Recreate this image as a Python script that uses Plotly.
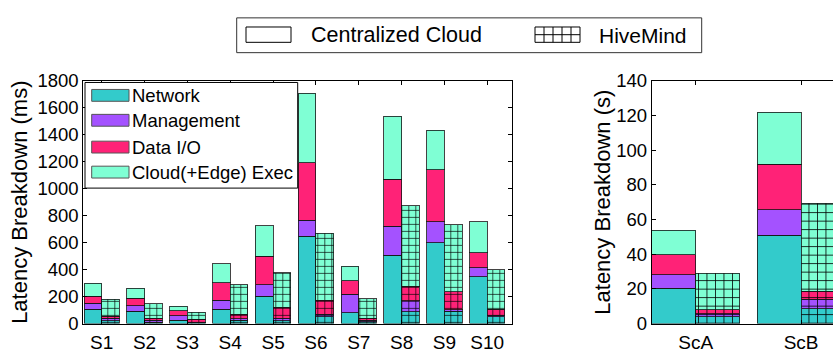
import plotly.graph_objects as go

W, H = 833, 353

# ---------------- data ----------------
cats_left = ['S1', 'S2', 'S3', 'S4', 'S5', 'S6', 'S7', 'S8', 'S9', 'S10']
cloud_network = [105, 91, 26, 105, 202, 649, 79, 507, 600, 347]
cloud_mgmt = [46, 42, 32, 69, 84, 116, 137, 216, 154, 65]
cloud_io = [51, 55, 37, 128, 214, 428, 103, 349, 386, 114]
cloud_exec = [98, 75, 35, 142, 226, 514, 107, 465, 295, 228]
hive_network = [22, 10, 5, 26, 20, 50, 12, 88, 91, 50]
hive_mgmt = [16, 15, 5, 11, 20, 20, 11, 80, 11, 13]
hive_io = [16, 15, 20, 33, 79, 104, 17, 110, 135, 42]
hive_exec = [125, 107, 54, 216, 258, 494, 144, 594, 496, 293]

cats_right = ['ScA', 'ScB']
cloudR_network = [20.3, 51.0]
cloudR_mgmt = [7.8, 14.7]
cloudR_io = [11.6, 26.1]
cloudR_exec = [14.1, 30.2]
hiveR_network = [3.8, 8.5]
hiveR_mgmt = [1.8, 5.4]
hiveR_io = [2.4, 4.6]
hiveR_exec = [21.0, 51.0]

components = ['Network', 'Management', 'Data I/O', 'Cloud(+Edge) Exec']
colors = ['#33CBCB', '#A452FF', '#FF2277', '#7FFFD4']
system_labels = ['Centralized Cloud', 'HiveMind']

FONT = 'Liberation Sans, Arial, sans-serif'
EDGE = 'rgba(20,20,20,0.8)'


def px(x):
    return x / W


def py(y):
    return 1 - y / H


fig = go.Figure()

left_cloud = [cloud_network, cloud_mgmt, cloud_io, cloud_exec]
left_hive = [hive_network, hive_mgmt, hive_io, hive_exec]
right_cloud = [cloudR_network, cloudR_mgmt, cloudR_io, cloudR_exec]
right_hive = [hiveR_network, hiveR_mgmt, hiveR_io, hiveR_exec]

wL = 0.413
wR = 0.4175
idxL = list(range(len(cats_left)))
idxR = list(range(len(cats_right)))

def add_bars(idx, w, cloud, hive, xa, ya, hsize):
    for k in range(4):
        fig.add_trace(go.Bar(
            x=[i - w / 2 for i in idx], y=cloud[k], width=w,
            marker=dict(color=colors[k], line=dict(color=EDGE, width=1)),
            name=components[k], showlegend=False, xaxis=xa, yaxis=ya))
    for k in range(4):
        fig.add_trace(go.Bar(
            x=[i + w / 2 for i in idx], y=hive[k], width=w,
            marker=dict(color=colors[k], line=dict(color=EDGE, width=1),
                        pattern=dict(shape='+', fgcolor='black', fgopacity=1,
                                     size=hsize, solidity=0.18, fillmode='overlay')),
            name=components[k] + ' (HiveMind)', showlegend=False, xaxis=xa, yaxis=ya))

add_bars(idxL, wL, left_cloud, left_hive, 'x', 'y', 7)
add_bars(idxR, wR, right_cloud, right_hive, 'x2', 'y2', 8.5)

ydom = [py(332.3), py(74.3)]
axis_common = dict(showline=True, linecolor='black', linewidth=1, ticks='inside',
                   ticklen=4, tickcolor='black', showgrid=False, zeroline=False,
                   tickfont=dict(family=FONT, size=18.5, color='black'))
xtickfont = dict(family=FONT, size=19, color='black')

fig.update_layout(
    width=W, height=H, autosize=False,
    margin=dict(l=0, r=0, t=0, b=0),
    paper_bgcolor='white', plot_bgcolor='white',
    barmode='stack', showlegend=False,
    font=dict(family=FONT, color='black'),
    xaxis=dict(domain=[px(83.3), px(512.3)], range=[-0.43, 9.584],
               tickvals=idxL, ticktext=cats_left, mirror='ticks', anchor='y',
               ticklabelstandoff=2, **{**axis_common, 'tickfont': xtickfont}),
    yaxis=dict(domain=ydom, range=[0, 1800], dtick=200, mirror='ticks', anchor='x',
               **axis_common),
    xaxis2=dict(domain=[px(651.7), 1.0], range=[-0.4175, 1.3025],
                tickvals=idxR, ticktext=cats_right, mirror='ticks', anchor='y2',
                ticklabelstandoff=2, **{**axis_common, 'tickfont': xtickfont}),
    yaxis2=dict(domain=ydom, range=[0, 140], dtick=20, mirror=False, anchor='x2',
                **axis_common),
)

shapes = []
annotations = []

# axis titles
annotations.append(dict(text='Latency Breakdown (ms)', x=px(20), y=py(204), xref='paper', yref='paper',
                        textangle=-90, showarrow=False, xanchor='center', yanchor='middle',
                        font=dict(family=FONT, size=22, color='black')))
annotations.append(dict(text='Latency Breakdown (s)', x=px(602.5), y=py(203.3), xref='paper', yref='paper',
                        textangle=-90, showarrow=False, xanchor='center', yanchor='middle',
                        font=dict(family=FONT, size=22, color='black')))

# component legend (inside left plot)
shapes.append(dict(type='rect', xref='paper', yref='paper', x0=px(85), x1=px(297.7), y0=py(188.3), y1=py(76),
                   line=dict(color='black', width=1), fillcolor='white', layer='above'))
centers = [89.7, 116.2, 144.7, 171.3]
for k in range(4):
    c = centers[k]
    shapes.append(dict(type='rect', xref='paper', yref='paper', x0=px(91.7), x1=px(129), y0=py(c + 6.3), y1=py(c - 6.3),
                       line=dict(color='#555555', width=1), fillcolor=colors[k], layer='above'))
    annotations.append(dict(text=components[k], x=px(129.5), y=py(c + 0.5), xref='paper', yref='paper',
                            showarrow=False, xanchor='left', yanchor='middle',
                            font=dict(family=FONT, size=18.5, color='black')))

# system legend (top)
shapes.append(dict(type='rect', xref='paper', yref='paper', x0=px(236.7), x1=px(701.7), y0=py(44.3), y1=py(7.3),
                   line=dict(color='#333333', width=1), fillcolor='white', layer='above'))
shapes.append(dict(type='rect', xref='paper', yref='paper', x0=px(246), x1=px(291), y0=py(33.3), y1=py(17),
                   line=dict(color='black', width=1), fillcolor='white', layer='above'))
shapes.append(dict(type='rect', xref='paper', yref='paper', x0=px(535), x1=px(580), y0=py(33.3), y1=py(17),
                   line=dict(color='black', width=1), fillcolor='white', layer='above'))
for gx in [544, 553, 562, 571]:
    shapes.append(dict(type='line', xref='paper', yref='paper', x0=px(gx), x1=px(gx), y0=py(33.3), y1=py(17),
                       line=dict(color='black', width=1), layer='above'))
shapes.append(dict(type='line', xref='paper', yref='paper', x0=px(535), x1=px(580), y0=py(25.2), y1=py(25.2),
                   line=dict(color='black', width=1), layer='above'))
annotations.append(dict(text=system_labels[0], x=px(309), y=py(26), xref='paper', yref='paper',
                        showarrow=False, xanchor='left', yanchor='middle',
                        font=dict(family=FONT, size=21.5, color='black')))
annotations.append(dict(text=system_labels[1], x=px(597), y=py(26), xref='paper', yref='paper',
                        showarrow=False, xanchor='left', yanchor='middle',
                        font=dict(family=FONT, size=21, color='black')))

fig.update_layout(shapes=shapes, annotations=annotations)

fig.write_html('out.html')
